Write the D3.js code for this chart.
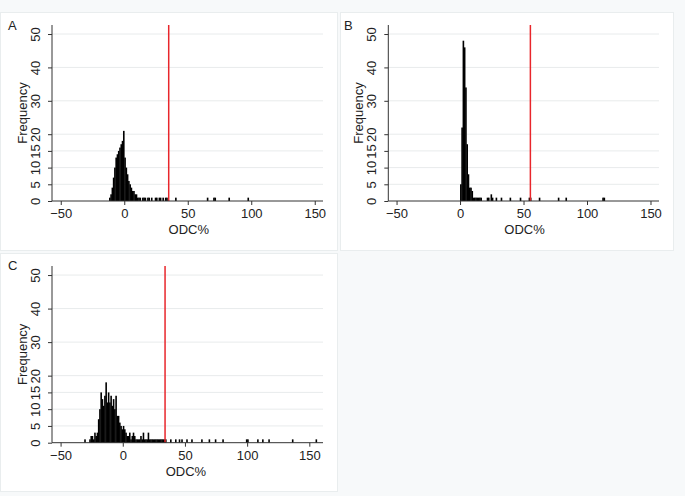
<!DOCTYPE html>
<html><head><meta charset="utf-8">
<script src="https://cdn.jsdelivr.net/npm/d3@7"></script>
<style>body{margin:0;background:#f7f9fa} svg{display:block}</style>
</head><body>
<svg id="chart" width="685" height="496"></svg>
<script>
// ---- data ----
const xTicks = [-50, 0, 50, 100, 150];
const yTicks = [0, 5, 10, 15, 20, 30, 40, 50];
const xLabel = "ODC%";
const yLabel = "Frequency";

// Panel A: histogram bins (left edge, width 1) and counts
const binsA   = [-12,-11,-10,-9,-8,-7,-6,-5,-4,-3,-2,-1,0,1,2,3,4,5,6,7,8,9,10,11,12,
                 14,15,16,18,19,21,24,25,27,28,30,32,33,40,65,70,71,82,97];
const countsA = [1,2,4,7,10,13,14,15,16,17,18,21,13,10,8,6,5,4,3,3,2,2,1,1,1,
                 1,1,1,1,1,1,1,1,1,1,1,1,1,1,1,1,1,1,1];
const cutA = 35;

// Panel B
const binsB   = [0,1,2,3,4,5,6,7,8,9,10,11,12,13,14,15,16,
                 21,22,24,25,28,32,39,47,54,55,62,77,83,112,113];
const countsB = [5,22,48,46,34,17,8,4,4,3,1,1,1,1,1,1,1,
                 1,1,2,1,1,1,1,1,1,1,1,1,1,1,1];
const cutB = 55.4;

// Panel C
const binsC   = [-31,-27,-26,-25,-24,-23,-22,-21,-20,-19,-18,-17,-16,-15,-14,-13,-12,-11,-10,-9,-8,-7,-6,-5,-4,-3,-2,-1,
                 0,1,2,3,4,5,6,7,8,9,10,11,12,13,14,15,16,17,18,19,20,21,22,23,24,25,26,27,28,29,30,31,32,33,34,
                 38,42,45,47,51,55,63,69,74,80,99,100,108,112,117,136,155];
const countsC = [1,1,2,2,1,3,2,3,7,10,15,13,11,14,18,12,15,12,14,11,13,10,14,8,8,6,5,4,
                 5,4,3,2,2,3,1,2,3,2,1,1,1,1,2,1,3,1,1,1,3,1,1,1,1,1,1,1,1,1,1,1,1,1,1,
                 1,1,1,1,1,1,1,1,1,1,1,1,1,1,1,1,1];
const cutC = 34;

const panelLabels = ["A", "B", "C"];

// ---- layout ----
const panels = [
  {label: panelLabels[0], bins: binsA, counts: countsA, cut: cutA,
   box: [0, 12, 337, 238], ax0: 52, ax1: 323, xDom: [-56.9, 156.5], yTop: 25, yBase: 201, yMax: 52.7, lx: 8, ly: 30, fx: 27},
  {label: panelLabels[1], bins: binsB, counts: countsB, cut: cutB,
   box: [340, 12, 333, 238], ax0: 388.3, ax1: 659, xDom: [-56.5, 156.7], yTop: 25, yBase: 201, yMax: 52.7, lx: 344, ly: 30, fx: 363},
  {label: panelLabels[2], bins: binsC, counts: countsC, cut: cutC,
   box: [0, 253, 337, 238], ax0: 52, ax1: 323, xDom: [-56.9, 161], yTop: 266, yBase: 442.7, yMax: 52.7, lx: 8, ly: 270, fx: 27}
];

const svg = d3.select("#chart");
const font = "'Liberation Sans', Arial, Helvetica, sans-serif";

panels.forEach(p => {
  const g = svg.append("g");
  g.append("rect").attr("x", p.box[0] + 0.5).attr("y", p.box[1] + 0.5)
    .attr("width", p.box[2]).attr("height", p.box[3])
    .attr("fill", "#fff").attr("stroke", "#e9edee");

  const x = d3.scaleLinear().domain(p.xDom).range([p.ax0, p.ax1]);
  const y = d3.scaleLinear().domain([0, p.yMax]).range([p.yBase, p.yTop]);

  // gridlines
  g.selectAll(".grid").data(yTicks.filter(t => t > 0)).join("line")
    .attr("x1", p.ax0).attr("x2", p.ax1)
    .attr("y1", d => y(d)).attr("y2", d => y(d))
    .attr("stroke", "#e8ebec").attr("stroke-width", 1);

  // bars
  const data = p.bins.map((b, i) => ({b, c: p.counts[i]}));
  g.selectAll(".bar").data(data).join("rect")
    .attr("x", d => x(d.b))
    .attr("width", d => x(d.b + 1) - x(d.b) + 0.35)
    .attr("y", d => y(d.c))
    .attr("height", d => y(0) - y(d.c))
    .attr("fill", "#000");

  // cutoff line
  g.append("line").attr("x1", x(p.cut)).attr("x2", x(p.cut))
    .attr("y1", p.yTop).attr("y2", p.yBase)
    .attr("stroke", "#e8262b").attr("stroke-width", 1.5);

  // x axis
  const xAxis = d3.axisBottom(x).tickValues(xTicks).tickSize(4)
    .tickFormat(d => d < 0 ? "\u2212" + Math.abs(d) : d);
  const xa = g.append("g").attr("transform", `translate(0,${p.yBase})`).call(xAxis);
  xa.select(".domain").attr("d", `M${p.ax0},0H${p.ax1}`).attr("stroke", "#333");
  xa.selectAll(".tick line").attr("stroke", "#333");
  xa.selectAll(".tick text").attr("font-family", font).attr("font-size", 13)
    .attr("fill", "#222").attr("y", 8).attr("dy", "0.71em");

  // y axis
  const yAxis = d3.axisLeft(y).tickValues(yTicks).tickSize(4);
  const ya = g.append("g").attr("transform", `translate(${p.ax0},0)`).call(yAxis);
  ya.select(".domain").attr("d", `M0,${p.yTop}V${p.yBase}`).attr("stroke", "#333");
  ya.selectAll(".tick line").attr("stroke", "#333");
  ya.selectAll(".tick text").attr("font-family", font).attr("font-size", 13)
    .attr("fill", "#222").attr("x", null).attr("dy", null)
    .attr("text-anchor", "middle")
    .attr("transform", "translate(-12,0) rotate(-90)");

  // axis titles
  g.append("text").attr("x", (x(-50) + x(150)) / 2 + 1).attr("y", p.yBase + 33)
    .attr("text-anchor", "middle").attr("font-family", font).attr("font-size", 13)
    .attr("fill", "#222").text(xLabel);
  g.append("text").attr("transform", `translate(${p.fx},${(p.yTop + p.yBase) / 2}) rotate(-90)`)
    .attr("text-anchor", "middle").attr("font-family", font).attr("font-size", 13)
    .attr("fill", "#222").text(yLabel);

  // panel label
  g.append("text").attr("x", p.lx).attr("y", p.ly)
    .attr("font-family", font).attr("font-size", 13).attr("fill", "#222").text(p.label);
});
</script>
</body></html>
